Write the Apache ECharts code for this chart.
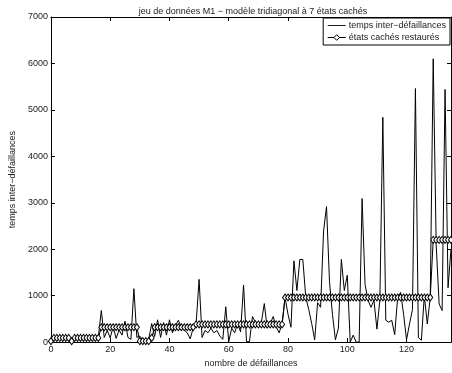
<!DOCTYPE html>
<html>
<head>
<meta charset="utf-8">
<script src="https://cdn.jsdelivr.net/npm/echarts@6/dist/echarts.min.js"></script>
<style>
  html, body { margin: 0; padding: 0; background: #fff; }
  #chart { width: 452px; height: 373px; }
</style>
</head>
<body>
<div id="chart"></div>
<script>
// temps inter-défaillances (index 0..135)
var interTimes = [
    20, 60, 100, 80, 120, 60, 90, 10, 80, 110,
    60, 100, 90, 70, 120, 80, 100, 680, 100, 250,
    90, 330, 80, 260, 150, 450, 100, 60, 1150, 100,
    130, 40, 20, 60, 400, 120, 480, 100, 420, 150,
    480, 200, 350, 470, 320, 260, 200, 70, 300, 400,
    1350, 100, 250, 200, 300, 200, 250, 130, 60, 760,
    10, 300, 200, 400, 220, 1230, 10, 10, 550, 430,
    330, 420, 830, 300, 400, 550, 330, 200, 390, 960,
    600, 320, 1750, 1110, 1780, 1780, 960, 700, 400, 50,
    850, 750, 2390, 2920, 1300, 600, 50, 300, 1780, 1110,
    1440, 0, 150, 0, 0, 3090, 1240, 900, 750, 900,
    280, 900, 4840, 470, 430, 470, 160, 960, 1070, 600,
    50, 390, 700, 5460, 100, 40, 1000, 390, 960, 6100,
    2100, 820, 680, 5440, 1170, 2000
];

// états cachés restaurés
var hiddenStates = [
    20, 90, 90, 90, 90, 90, 90, 20, 90, 90,
    90, 90, 90, 90, 90, 90, 90, 320, 320, 320,
    320, 320, 320, 320, 320, 320, 320, 320, 320, 320,
    20, 20, 20, 20, 90, 320, 320, 320, 320, 320,
    320, 320, 320, 320, 320, 320, 320, 320, 320, 380,
    380, 380, 380, 380, 380, 380, 380, 380, 380, 380,
    380, 380, 380, 380, 380, 380, 380, 380, 380, 380,
    380, 380, 380, 380, 380, 380, 380, 380, 380, 960,
    960, 960, 960, 960, 960, 960, 960, 960, 960, 960,
    960, 960, 960, 960, 960, 960, 960, 960, 960, 960,
    960, 960, 960, 960, 960, 960, 960, 960, 960, 960,
    960, 960, 960, 960, 960, 960, 960, 960, 960, 960,
    960, 960, 960, 960, 960, 960, 960, 960, 960, 2200,
    2200, 2200, 2200, 2200, 2200, 2200
];

var xTicks = [0, 20, 40, 60, 80, 100, 120];
var yTicks = [0, 1000, 2000, 3000, 4000, 5000, 6000, 7000];

var font = 'Liberation Sans, Arial, sans-serif';

function pairs(values) {
    return values.map(function(v, i) { return [i, v]; });
}

function boxAxis(pos, isX, withLabels, name) {
    var ax = {
        type: 'value',
        position: pos,
        min: 0,
        max: isX ? 135 : 7000,
        interval: isX ? 20 : 1000,
        axisLine: { show: true, onZero: false, lineStyle: { color: '#000', width: 1 } },
        axisTick: { show: true, inside: true, length: 4, lineStyle: { color: '#000' } },
        splitLine: { show: false },
        axisLabel: {
            show: withLabels,
            color: '#222',
            fontSize: 9,
            fontFamily: font,
            margin: 3,
            showMaxLabel: !isX,
            formatter: function(v) {
                var list = isX ? xTicks : yTicks;
                return list.indexOf(v) >= 0 ? String(v) : '';
            }
        }
    };
    if (name) {
        ax.name = name;
        ax.nameLocation = 'middle';
        ax.nameTextStyle = { color: '#222', fontSize: 9, fontFamily: font };
        ax.nameGap = isX ? 14 : 30;
    }
    return ax;
}

var chart = echarts.init(document.getElementById('chart'));
chart.setOption({
    animation: false,
    backgroundColor: '#fff',
    title: {
        text: 'jeu de données M1 − modèle tridiagonal à 7 états cachés',
        left: 248,
        textAlign: 'center',
        top: 2,
        textStyle: { color: '#222', fontSize: 9, fontWeight: 'normal', fontFamily: font }
    },
    legend: {
        orient: 'vertical',
        right: 2,
        top: 18,
        padding: [3, 4, 3, 4],
        itemGap: 3,
        itemWidth: 18,
        itemHeight: 7,
        backgroundColor: '#fff',
        borderColor: '#000',
        borderWidth: 1,
        borderRadius: 0,
        lineStyle: { width: 1 },
        itemStyle: { borderWidth: 1 },
        textStyle: { color: '#222', fontSize: 9, fontFamily: font, padding: [0, 0, 0, -2] },
        data: [
            { name: 'temps inter−défaillances', icon: 'path://M0,4L20,4L20,5L0,5Z' },
            { name: 'états cachés restaurés' }
        ]
    },
    grid: { left: 44, right: 1, top: 17, bottom: 28 },
    xAxis: [
        boxAxis('bottom', true, true, 'nombre de défaillances'),
        boxAxis('top', true, false)
    ],
    yAxis: [
        boxAxis('left', false, true, 'temps inter−défaillances'),
        boxAxis('right', false, false)
    ],
    series: [
        {
            name: 'temps inter−défaillances',
            type: 'line',
            data: pairs(interTimes),
            showSymbol: false,
            symbol: 'none',
            color: '#000',
            lineStyle: { color: '#000', width: 1 },
            z: 2
        },
        {
            name: 'états cachés restaurés',
            type: 'line',
            data: pairs(hiddenStates),
            symbol: 'diamond',
            symbolSize: [5, 7],
            color: '#000',
            itemStyle: { color: '#fff', borderColor: '#000', borderWidth: 1 },
            lineStyle: { color: '#000', width: 1 },
            z: 3
        }
    ]
});
</script>
</body>
</html>
